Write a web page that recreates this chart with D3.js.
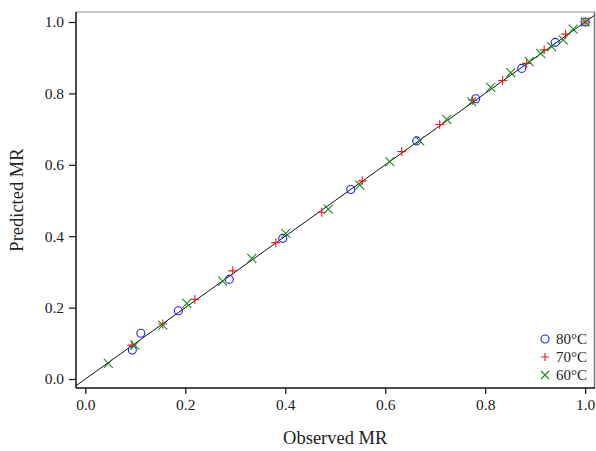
<!DOCTYPE html>
<html>
<head>
<meta charset="utf-8">
<script src="https://cdn.jsdelivr.net/npm/d3@7"></script>
<style>
  body { margin: 0; background: #fff; }
  svg text { font-family: "Liberation Serif", "DejaVu Serif", serif; fill: #222; }
</style>
</head>
<body>
<svg id="chart" width="596" height="451"></svg>
<script>
// observed / predicted moisture ratio per drying temperature
var obs80  = [0.094, 0.111, 0.186, 0.288, 0.395, 0.531, 0.663, 0.781, 0.873, 0.940, 1.0];
var pred80 = [0.081, 0.128, 0.191, 0.279, 0.394, 0.531, 0.667, 0.785, 0.870, 0.943, 1.0];

var obs70  = [0.093, 0.155, 0.219, 0.295, 0.381, 0.473, 0.554, 0.633, 0.709, 0.775, 0.835, 0.883, 0.918, 0.961, 1.0];
var pred70 = [0.095, 0.154, 0.223, 0.303, 0.382, 0.467, 0.555, 0.637, 0.713, 0.781, 0.836, 0.884, 0.922, 0.966, 1.0];

var obs60  = [0.046, 0.099, 0.155, 0.203, 0.275, 0.333, 0.401, 0.486, 0.549, 0.609, 0.669, 0.723, 0.773, 0.811, 0.851, 0.888, 0.911, 0.933, 0.956, 0.976, 1.0];
var pred60 = [0.044, 0.095, 0.151, 0.212, 0.274, 0.338, 0.408, 0.476, 0.543, 0.609, 0.667, 0.727, 0.777, 0.817, 0.858, 0.889, 0.912, 0.931, 0.950, 0.980, 1.0];

var ticks = [0, 0.2, 0.4, 0.6, 0.8, 1.0];
var seriesNames = ["80°C", "70°C", "60°C"];

var svg = d3.select("#chart");
var pLeft = 76, pRight = 594.5, pTop = 12, pBottom = 388;

var x = d3.scaleLinear().domain([-0.0187, 1.0187]).range([pLeft, pRight]);
var y = d3.scaleLinear().domain([-0.0252, 1.028]).range([pBottom, pTop]);

// frame (top / right lighter)
svg.append("line").attr("x1", pLeft).attr("x2", pRight).attr("y1", pTop).attr("y2", pTop)
    .attr("stroke", "#b4b4b4").attr("stroke-width", 1.5)
svg.append("line").attr("x1", pRight).attr("x2", pRight).attr("y1", pTop).attr("y2", pBottom)
    .attr("stroke", "#777").attr("stroke-width", 1.5)

// axes
var xAxis = d3.axisBottom(x).tickValues(ticks).tickFormat(d3.format(".1f")).tickSize(6).tickPadding(5);
var yAxis = d3.axisLeft(y).tickValues(ticks).tickFormat(d3.format(".1f")).tickSize(7).tickPadding(5);

var gx = svg.append("g").attr("transform", "translate(0," + pBottom + ")").call(xAxis);
var gy = svg.append("g").attr("transform", "translate(" + pLeft + ",0)").call(yAxis);
[gx, gy].forEach(function(g) {
    g.attr("font-size", null).attr("font-family", null);
    g.select(".domain").remove();
    g.selectAll("line").attr("stroke", "#111").attr("stroke-width", 1.2);
    g.selectAll("text")
        .style("font-family", "'Liberation Serif', serif")
        .style("font-size", "15.5px")
        .attr("fill", "#222");
});
svg.append("line").attr("x1", pLeft).attr("x2", pRight + 0.5).attr("y1", pBottom).attr("y2", pBottom)
    .attr("stroke", "#111").attr("stroke-width", 1.5)
svg.append("line").attr("x1", pLeft).attr("x2", pLeft).attr("y1", pTop).attr("y2", pBottom)
    .attr("stroke", "#111").attr("stroke-width", 1.5)

// 1:1 line
svg.append("defs").append("clipPath").attr("id", "clip")
    .append("rect").attr("x", pLeft).attr("y", pTop).attr("width", pRight - pLeft).attr("height", pBottom - pTop);
svg.append("line")
    .attr("clip-path", "url(#clip)")
    .attr("x1", x(-0.0187)).attr("y1", y(-0.0187))
    .attr("x2", x(1.0187)).attr("y2", y(1.0187))
    .attr("stroke", "#111").attr("stroke-width", 1)

var plot = svg.append("g")

// 80C circles
plot.selectAll("circle.s80")
    .data(d3.zip(obs80, pred80))
    .enter()
    .append("circle")
    .attr("class", "s80")
    .attr("cx", d => x(d[0]))
    .attr("cy", d => y(d[1]))
    .attr("r", 4)
    .attr("fill", "none")
    .attr("stroke", "#1f1fff")
    .attr("stroke-width", 1.1)

var plusPath = "M-4.5,0H4.5M0,-4.5V4.5";
var crossPath = "M-4.5,-4.5L4.5,4.5M-4.5,4.5L4.5,-4.5";

plot.selectAll("path.s70")
    .data(d3.zip(obs70, pred70))
    .enter()
    .append("path")
    .attr("class", "s70")
    .attr("d", plusPath)
    .attr("transform", d => "translate(" + x(d[0]) + "," + y(d[1]) + ")")
    .attr("stroke", "#f01818")
    .attr("stroke-width", 1.1)

plot.selectAll("path.s60")
    .data(d3.zip(obs60, pred60))
    .enter()
    .append("path")
    .attr("class", "s60")
    .attr("d", crossPath)
    .attr("transform", d => "translate(" + x(d[0]) + "," + y(d[1]) + ")")
    .attr("stroke", "#1a8a1a")
    .attr("stroke-width", 1.1)

// legend
var legend = svg.append("g").attr("transform", "translate(545,339)")
seriesNames.forEach(function(name, i) {
    var row = legend.append("g").attr("transform", "translate(0," + (i * 18) + ")");
    if (i == 0) {
        row.append("circle").attr("r", 4).attr("fill", "none").attr("stroke", "#1f1fff").attr("stroke-width", 1.1);
    } else {
        row.append("path").attr("d", i == 1 ? "M-4,0H4M0,-4V4" : "M-4,-4L4,4M-4,4L4,-4")
            .attr("stroke", i == 1 ? "#f01818" : "#1a8a1a").attr("stroke-width", 1.1);
    }
    row.append("text").attr("x", 11).attr("y", 5).style("font-size", "15px").text(name);
});

// axis titles
svg.append("text")
    .attr("x", (pLeft + pRight) / 2)
    .attr("y", 444)
    .attr("text-anchor", "middle")
    .style("font-size", "18.5px")
    .text("Observed MR")

svg.append("text")
    .attr("transform", "translate(23," + ((pTop + pBottom) / 2) + ") rotate(-90)")
    .attr("text-anchor", "middle")
    .style("font-size", "18.5px")
    .text("Predicted MR")
</script>
</body>
</html>
